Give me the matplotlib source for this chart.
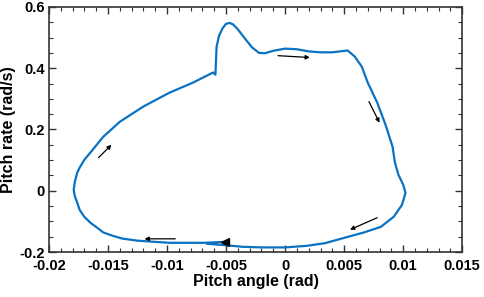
import matplotlib
matplotlib.use("Agg")
import matplotlib.pyplot as plt
from matplotlib.ticker import MultipleLocator

plt.rcParams["font.family"] = ["Liberation Sans", "DejaVu Sans"]
plt.rcParams["font.weight"] = "bold"

# trajectory in phase plane (clockwise)
pitch_angle = [
    -0.0051, -0.0069, -0.0098, -0.0125, -0.0138, -0.0146, -0.0154, -0.0159,
    -0.0165, -0.0170, -0.0174, -0.0176, -0.0178, -0.0179, -0.0178, -0.0176,
    -0.0174, -0.0170, -0.0165, -0.0154, -0.0140, -0.0120,
    -0.0098, -0.0078, -0.0061, -0.0059, -0.0058, -0.0056,
    -0.0053, -0.0050, -0.0047, -0.0044, -0.0040, -0.0034, -0.0028, -0.0022,
    -0.0017, -0.0010, 0.0000, 0.0010, 0.0020, 0.0030, 0.0040, 0.0053,
    0.0059, 0.0065, 0.0070, 0.0078, 0.0085, 0.0091, 0.0093, 0.0096,
    0.0100, 0.0102, 0.0099, 0.0092, 0.0081, 0.0066,
    0.0047, 0.0034, 0.0018, 0.0000, -0.0020, -0.0036, -0.0050,
    -0.0066,
]
pitch_rate = [
    -0.167, -0.170, -0.170, -0.163, -0.156, -0.147, -0.136, -0.121,
    -0.104, -0.085, -0.062, -0.039, -0.018, 0.003, 0.030, 0.059,
    0.075, 0.101, 0.124, 0.176, 0.225, 0.275,
    0.320, 0.353, 0.386, 0.379, 0.470, 0.505,
    0.530, 0.545, 0.548, 0.543, 0.527, 0.497, 0.468, 0.450,
    0.449, 0.457, 0.464, 0.462, 0.455, 0.452, 0.452, 0.458,
    0.438, 0.405, 0.353, 0.288, 0.216, 0.144, 0.092, 0.052,
    0.020, -0.007, -0.046, -0.085, -0.118, -0.137,
    -0.157, -0.171, -0.180, -0.185, -0.185, -0.183, -0.178,
    -0.173,
]

# direction arrows: (start x, start y, end x, end y)
arrows = [
    (-0.0006, 0.441, 0.0021, 0.435),
    (0.0071, 0.291, 0.0080, 0.222),
    (0.0078, -0.088, 0.0055, -0.127),
    (-0.0093, -0.157, -0.0119, -0.157),
    (-0.0158, 0.108, -0.0147, 0.150),
]

fig = plt.figure(figsize=(4.84, 2.97), dpi=100)
ax = fig.add_axes([0.101, 0.1515, 0.854, 0.825])

ax.plot(pitch_angle, pitch_rate, color="#0a72c2", lw=1.6)
ax.plot(pitch_angle[0], pitch_rate[0], marker="<", color="black", ms=6)

for x0, y0, x1, y1 in arrows:
    ax.annotate("", xy=(x1, y1), xytext=(x0, y0),
                arrowprops=dict(arrowstyle="-|>", color="black", lw=0.9,
                                mutation_scale=6, shrinkA=0, shrinkB=0))

ax.set_xlim(-0.02, 0.015)
ax.set_ylim(-0.2, 0.6)
ax.xaxis.set_major_locator(MultipleLocator(0.005))
ax.xaxis.set_minor_locator(MultipleLocator(0.001))
ax.yaxis.set_major_locator(MultipleLocator(0.2))
ax.yaxis.set_minor_locator(MultipleLocator(0.05))
ax.set_xticks([-0.02, -0.015, -0.01, -0.005, 0, 0.005, 0.01, 0.015])
ax.set_xticklabels(["-0.02", "-0.015", "-0.01", "-0.005", "0", "0.005", "0.01", "0.015"])
ax.set_yticks([-0.2, 0, 0.2, 0.4, 0.6])
ax.set_yticklabels(["-0.2", "0", "0.2", "0.4", "0.6"])

ax.tick_params(which="both", direction="in", top=True, right=True,
               color="#333333", labelsize=10.5)
ax.tick_params(which="major", length=5, width=1)
ax.tick_params(axis="x", which="major", pad=5)
ax.tick_params(axis="y", which="major", pad=3)
ax.tick_params(which="minor", length=3, width=0.8)
for s in ax.spines.values():
    s.set_color("#333333")
    s.set_linewidth(1.2)

ax.set_xlabel("Pitch angle (rad)", fontsize=11.5, fontweight="bold", labelpad=1)
ax.set_ylabel("Pitch rate (rad/s)", fontsize=11.5, fontweight="bold", labelpad=2)

fig.savefig("out.png", dpi=100)
